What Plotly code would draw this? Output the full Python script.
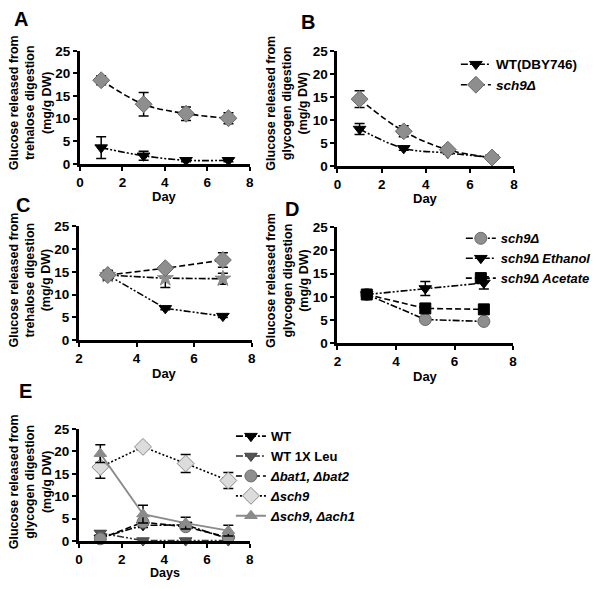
import plotly.graph_objects as go

W, H = 600, 589
FONT = "Liberation Sans, Arial, sans-serif"

# ---------------- data ----------------
days_ab = [1, 3, 5, 7]
days_cd = [3, 5, 7]
days_e = [1, 3, 5, 7]

# Panel A (trehalose)
a_wt = [3.6, 1.8, 0.8, 0.8]
a_wt_err = [2.4, 1.0, 0.3, 0.3]
a_sch9 = [18.5, 13.2, 11.1, 10.1]
a_sch9_err = [1.0, 2.6, 1.5, 1.2]

# Panel B (glycogen)
b_wt = [8.0, 3.8, 2.8, 1.8]
b_wt_err = [1.2, 0.4, 0.3, 0.3]
b_sch9 = [14.5, 7.5, 3.5, 1.8]
b_sch9_err = [1.8, 1.2, 0.4, 0.3]

# Panel C (trehalose)
c_dia = [14.3, 15.8, 17.6]
c_dia_err = [1.0, 0.5, 1.6]
c_star = [14.3, 13.6, 13.5]
c_star_err = [1.0, 2.0, 1.2]
c_tri = [14.3, 7.0, 5.3]
c_tri_err = [0.5, 0.3, 0.3]

# Panel D (glycogen)
d_sch9 = [10.5, 5.1, 4.7]
d_sch9_err = [0.3, 0.3, 0.3]
d_eth = [10.5, 11.8, 13.0]
d_eth_err = [0.3, 1.5, 1.3]
d_ace = [10.5, 7.5, 7.3]
d_ace_err = [0.3, 0.3, 0.3]

# Panel E (glycogen)
e_wt = [0.7, 3.5, 3.6, 0.5]
e_wt_err = [0.5, 0.5, 0.5, 0.3]
e_leu = [1.8, 0.1, 0.1, 0.1]
e_leu_err = [0.4, 0.2, 0.2, 0.2]
e_bat = [0.5, 4.2, 3.2, 0.8]
e_bat_err = [0.3, 0.5, 0.4, 0.3]
e_sch9 = [16.5, 21.0, 17.3, 13.5]
e_sch9_err = [2.5, 0.3, 2.0, 1.8]
e_ach1 = [19.5, 6.0, 4.0, 2.3]
e_ach1_err = [2.0, 2.0, 1.3, 1.2]

y_ticks = [0, 5, 10, 15, 20, 25]

# ---------------- styles ----------------
DASH = "6px,3px"
DASHDOT = "7px,2px,2px,2px"
DASHDOTDOT = "7px,2px,2px,2px,2px,2px"
DOT = "2px,2px"

fig = go.Figure()


def px_x(p):
    return p / W


def px_y(p):
    return 1 - p / H


def add(xa, ya, x, y, err, name, symbol, mcolor, lcolor, mline, dash,
        size=11, shape="linear", legend=None, lwidth=1.6):
    fig.add_trace(go.Scatter(
        x=x, y=y, name=name, xaxis=xa, yaxis=ya,
        mode="lines+markers",
        line=dict(color=lcolor, dash=dash, width=lwidth, shape=shape),
        marker=dict(symbol=symbol, size=size, color=mcolor,
                    line=dict(color=mline, width=1)),
        error_y=dict(type="data", array=err, color="black",
                     thickness=1.5, width=5),
        cliponaxis=False,
        showlegend=legend is not None,
        legend=legend if legend else "legend",
    ))


GREY = "#8e8e8e"
GREY_D = "#6a6a6a"

# Panel A
add("x", "y", days_ab, a_sch9, a_sch9_err, "sch9", "diamond", GREY, "black", GREY_D, DASH, 13, "spline")
add("x", "y", days_ab, a_wt, a_wt_err, "WT", "triangle-down", "black", "black", "black", DASHDOTDOT, 11, "spline")

# Panel B
add("x2", "y2", days_ab, b_wt, b_wt_err, "<b>WT(DBY746)</b>", "triangle-down", "black", "black", "black", DASHDOTDOT, 11, "spline", legend="legend")
add("x2", "y2", days_ab, b_sch9, b_sch9_err, "<b><i>sch9Δ</i></b>", "diamond", GREY, "black", GREY_D, DASH, 13, "spline", legend="legend")

# Panel C
add("x3", "y3", days_cd, c_tri, c_tri_err, "tri", "triangle-down", "black", "black", "black", DASHDOTDOT, 11)
add("x3", "y3", days_cd, c_star, c_star_err, "star", "star", GREY, "black", GREY, DASHDOT, 12)
add("x3", "y3", days_cd, c_dia, c_dia_err, "dia", "diamond", GREY, "black", GREY_D, DASH, 13)

# Panel D
add("x4", "y4", days_cd, d_sch9, d_sch9_err, "<b><i>sch9Δ</i></b>", "circle", GREY, "black", GREY_D, DASHDOT, 12, legend="legend2")
add("x4", "y4", days_cd, d_eth, d_eth_err, "<b><i>sch9Δ Ethanol</i></b>", "triangle-down", "black", "black", "black", DASHDOTDOT, 11, legend="legend2")
add("x4", "y4", days_cd, d_ace, d_ace_err, "<b><i>sch9Δ Acetate</i></b>", "square", "black", "black", "black", DASH, 11, legend="legend2")

# Panel E
add("x5", "y5", days_e, e_wt, e_wt_err, "<b>WT</b>", "triangle-down", "black", "black", "black", DASHDOT, 11, legend="legend3")
add("x5", "y5", days_e, e_leu, e_leu_err, "<b>WT 1X Leu</b>", "triangle-down", "#555555", "#333333", "#444444", DASHDOTDOT, 11, legend="legend3")
add("x5", "y5", days_e, e_bat, e_bat_err, "<b><i>Δbat1, Δbat2</i></b>", "circle", GREY, "black", GREY_D, DASH, 12, legend="legend3")
add("x5", "y5", days_e, e_sch9, e_sch9_err, "<b><i>Δsch9</i></b>", "diamond", "#dcdcdc", "black", "#8a8a8a", DOT, 13, legend="legend3")
add("x5", "y5", days_e, e_ach1, e_ach1_err, "<b><i>Δsch9, Δach1</i></b>", "triangle-up", "#8a8a8a", "#8a8a8a", "#8a8a8a", "solid", 11, legend="legend3", lwidth=1.8)

# ---------------- axes ----------------
panels = {
    # key: (x0, x1, ytop, ybottom, xrange, xticks)
    "1": (77, 249, 45, 161, [0, 8], [0, 2, 4, 6, 8]),
    "2": (338, 517, 45, 163, [0, 8], [0, 2, 4, 6, 8]),
    "3": (76, 251, 225, 342, [2, 8], [2, 4, 6, 8]),
    "4": (338, 516, 226, 345, [2, 8], [2, 4, 6, 8]),
    "5": (76, 249, 433, 548, [0, 8], [0, 2, 4, 6, 8]),
}

tickfont = dict(family=FONT, size=13.5, color="black", weight="bold")
layout_axes = {}
for k, (x0, x1, yt, yb, xr, xt) in panels.items():
    xname = "xaxis" if k == "1" else f"xaxis{k}"
    yname = "yaxis" if k == "1" else f"yaxis{k}"
    yref = "y" if k == "1" else f"y{k}"
    xref = "x" if k == "1" else f"x{k}"
    layout_axes[xname] = dict(
        domain=[px_x(x0), px_x(x1)], anchor=yref, range=xr,
        tickvals=xt, showgrid=False, zeroline=False,
        showline=True, linecolor="black", linewidth=3,
        ticks="outside", ticklen=4, tickwidth=2, tickcolor="black",
        tickfont=tickfont, fixedrange=True,
    )
    layout_axes[yname] = dict(
        domain=[px_y(yb), px_y(yt)], anchor=xref, range=[0, 25],
        tickvals=y_ticks, showgrid=False, zeroline=False,
        showline=True, linecolor="black", linewidth=3,
        ticks="outside", ticklen=4, tickwidth=2, tickcolor="black",
        tickfont=tickfont, fixedrange=True,
    )

# ---------------- annotations ----------------
ann = []


def text(xp, yp, s, size=12, angle=0):
    ann.append(dict(x=px_x(xp), y=px_y(yp), xref="paper", yref="paper",
                    text=s, showarrow=False, textangle=angle,
                    xanchor="center", yanchor="middle",
                    font=dict(family=FONT, size=size, color="black")))


# panel letters
text(17, 12, "<b>A</b>", 20)
text(308, 15, "<b>B</b>", 20)
text(19, 203, "<b>C</b>", 20)
text(292, 207, "<b>D</b>", 20)
text(22, 394, "<b>E</b>", 20)

treh = "<b>Glucose released from<br>trehalose digestion<br>(mg/g DW)</b>"
glyc = "<b>Glucose released from<br>glycogen digestion<br>(mg/g DW)</b>"
text(27, 98, treh, 12.5, -90)
text(287, 99, glyc, 12.5, -90)
text(27, 280, treh, 12.5, -90)
text(288, 281, glyc, 12.5, -90)
text(27, 487, glyc, 12.5, -90)

text(163, 194, "<b>Day</b>", 13)
text(427, 197, "<b>Day</b>", 13)
text(163, 376, "<b>Day</b>", 13)
text(427, 379, "<b>Day</b>", 13)
text(163, 581, "<b>Days</b>", 12.5)

fig.update_layout(
    width=W, height=H,
    margin=dict(l=0, r=0, t=0, b=0),
    paper_bgcolor="white", plot_bgcolor="white",
    showlegend=True,
    annotations=ann,
    legend=dict(x=px_x(458), y=px_y(43), xanchor="left", yanchor="top",
                font=dict(family=FONT, size=13.5, color="black"),
                bgcolor="rgba(0,0,0,0)", itemwidth=30, tracegroupgap=0),
    legend2=dict(x=px_x(463), y=px_y(222), xanchor="left", yanchor="top",
                 font=dict(family=FONT, size=13, color="black"),
                 bgcolor="rgba(0,0,0,0)", itemwidth=30, tracegroupgap=0),
    legend3=dict(x=px_x(230), y=px_y(425), xanchor="left", yanchor="top",
                 font=dict(family=FONT, size=13, color="black"),
                 bgcolor="rgba(0,0,0,0)", itemwidth=30, tracegroupgap=0),
    **layout_axes,
)

fig.write_html(
    "out.html",
    config={"displayModeBar": False},
    post_script="document.body.style.margin='0';document.body.style.overflow='hidden';",
)
